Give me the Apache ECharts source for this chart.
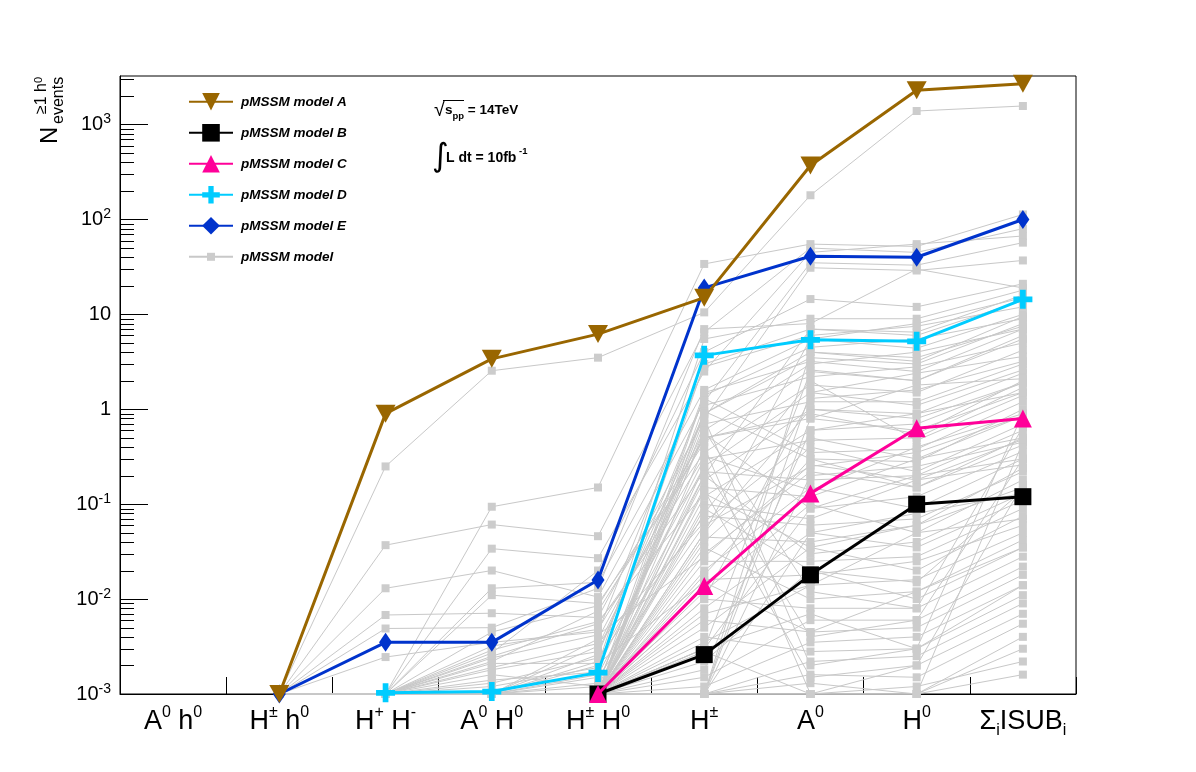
<!DOCTYPE html>
<html>
<head>
<meta charset="utf-8">
<script src="https://cdn.jsdelivr.net/npm/echarts@6/dist/echarts.min.js"></script>
<style>
html,body{margin:0;padding:0;background:#fff;}
#chart{width:1196px;height:772px;}
</style>
</head>
<body>
<div id="chart"></div>
<script>
// ---------------- DATA ----------------
const categories = ['A0 h0', 'H± h0', 'H+ H-', 'A0 H0', 'H± H0', 'H±', 'A0', 'H0', 'Σ ISUB'];
const xTickLabels = [
  '{m|A}{p|0}{m| h}{p|0}',
  '{m|H}{p|±}{m| h}{p|0}',
  '{m|H}{p|+}{m| H}{p|-}',
  '{m|A}{p|0}{m| H}{p|0}',
  '{m|H}{p|±}{m| H}{p|0}',
  '{m|H}{p|±}',
  '{m|A}{p|0}',
  '{m|H}{p|0}',
  '{m|Σ}{d|i}{m|ISUB}{d|i}'
];
const yMin = 0.001;
const yMax = 3250;

const modelA = [null, 0.001, 0.9, 3.4, 6.2, 15, 370, 2300, 2700];
const modelB = [null, null, null, null, 0.001, 0.0026, 0.018, 0.1, 0.12];
const modelC = [null, null, null, null, 0.001, 0.0137, 0.13, 0.63, 0.8];
const modelD = [null, null, 0.00103, 0.00106, 0.00168, 3.7, 5.4, 5.2, 14.4];
const modelE = [null, 0.001, 0.0035, 0.0035, 0.0159, 19, 41, 40, 100];

// grey pMSSM models: values for H± h0, H+ H-, A0 H0, H± H0, H±, A0, H0, Σ ISUB (A0 h0 empty)
const greyModels = [
  [1e-3, 0.25, 2.55, 3.5, 10.5, 180, 1390, 1570],
  [1e-3, 1e-3, 0.094, 0.15, 34, 55, 52, 113],
  [1e-3, 0.037, 0.061, 0.046, 6.5, 50, 45, 80],
  [1e-3, 1e-3, 0.034, 0.027, 2.5, 45, 55, 67],
  [1e-3, 0.013, 0.02, 0.0105, 1.2, 35, 33, 57],
  [1e-3, 0.0068, 0.0071, 0.0064, 0.8, 31, 29, 37],
  [1e-3, 1e-3, 0.0027, 0.02, 4, 14.5, 12, 21],
  [1e-3, 1e-3, 1e-3, 0.002, 5.5, 9, 9, 18],
  [1e-3, 0.0049, 0.005, 0.013, 7, 8, 30, 19],
  [1e-3, 1e-3, 0.0014, 0.0017, 3, 7, 6.5, 16],
  [1e-3, 0.00245, 0.0035, 0.0045, 2.8, 6, 7.5, 12],
  [1e-3, 1e-3, 0.013, 0.015, 1.6, 5.5, 4.4, 10],
  [1e-3, 1e-3, 1e-3, 1e-3, 1.4, 4.5, 5.5, 9],
  [1e-3, 1e-3, 0.0018, 0.0028, 0.9, 3.5, 3, 8],
  [1e-3, 1e-3, 1e-3, 0.0032, 0.6, 3, 4, 7],
  [1e-3, 1e-3, 0.0022, 0.0075, 0.45, 2.6, 2, 6],
  [1e-3, 1e-3, 1e-3, 1e-3, 1.1, 2.2, 2.8, 5],
  [1e-3, 1e-3, 0.011, 0.009, 0.35, 1.8, 1.5, 4.2],
  [1e-3, 1e-3, 1e-3, 0.0022, 0.25, 1.5, 2.4, 3.6],
  [1e-3, 1e-3, 1e-3, 1e-3, 0.7, 1.2, 1.2, 3],
  [1e-3, 1e-3, 0.0016, 0.0012, 0.18, 1.0, 0.9, 2.4],
  [1e-3, 1e-3, 1e-3, 0.0038, 0.5, 0.8, 1.8, 2.1],
  [1e-3, 1e-3, 1e-3, 1e-3, 0.12, 0.6, 0.7, 1.9],
  [1e-3, 1e-3, 0.0012, 0.0019, 0.3, 0.47, 0.5, 1.7],
  [1e-3, 1e-3, 1e-3, 1e-3, 0.08, 2, 0.47, 1.4],
  [1e-3, 1e-3, 1e-3, 0.0026, 1.3, 0.35, 0.38, 1.2],
  [1e-3, 1e-3, 1e-3, 1e-3, 0.95, 0.3, 0.28, 1.0],
  [1e-3, 1e-3, 1e-3, 0.0015, 0.06, 0.25, 0.35, 0.85],
  [1e-3, 1e-3, 1e-3, 1e-3, 0.04, 0.4, 0.22, 0.7],
  [1e-3, 1e-3, 0.0025, 0.0055, 0.22, 0.18, 0.2, 0.6],
  [1e-3, 1e-3, 1e-3, 1e-3, 0.15, 0.12, 0.3, 0.5],
  [1e-3, 1e-3, 1e-3, 1e-3, 0.03, 0.22, 0.15, 0.42],
  [1e-3, 1e-3, 1e-3, 0.0013, 0.55, 0.09, 0.12, 0.36],
  [1e-3, 1e-3, 1e-3, 1e-3, 0.02, 0.15, 0.09, 0.3],
  [1e-3, 1e-3, 1e-3, 1e-3, 0.1, 0.07, 0.18, 0.26],
  [1e-3, 1e-3, 0.0013, 0.0024, 0.075, 0.06, 0.07, 0.22],
  [1e-3, 1e-3, 1e-3, 1e-3, 0.012, 0.1, 0.05, 0.18],
  [1e-3, 1e-3, 1e-3, 1e-3, 0.045, 0.04, 0.06, 0.15],
  [1e-3, 1e-3, 1e-3, 0.0016, 0.2, 0.03, 0.04, 0.13],
  [1e-3, 1e-3, 1e-3, 1e-3, 0.008, 0.05, 0.035, 0.11],
  [1e-3, 1e-3, 1e-3, 1e-3, 0.025, 0.025, 0.028, 0.09],
  [1e-3, 1e-3, 1e-3, 1e-3, 0.005, 0.035, 0.02, 0.075],
  [1e-3, 1e-3, 1e-3, 1e-3, 0.016, 0.018, 0.025, 0.06],
  [1e-3, 1e-3, 1e-3, 1e-3, 0.0035, 0.014, 0.016, 0.05],
  [1e-3, 1e-3, 1e-3, 1e-3, 0.035, 0.01, 0.012, 0.042],
  [1e-3, 1e-3, 1e-3, 1e-3, 0.0022, 0.02, 0.01, 0.035],
  [1e-3, 1e-3, 1e-3, 1e-3, 0.01, 0.008, 0.008, 0.028],
  [1e-3, 1e-3, 1e-3, 1e-3, 0.0015, 0.006, 0.006, 0.022],
  [1e-3, 1e-3, 1e-3, 1e-3, 0.006, 0.0045, 0.005, 0.018],
  [1e-3, 1e-3, 1e-3, 1e-3, 0.0012, 0.0035, 0.004, 0.014],
  [1e-3, 1e-3, 1e-3, 1e-3, 0.004, 0.0028, 0.003, 0.011],
  [1e-3, 1e-3, 1e-3, 1e-3, 1e-3, 0.0022, 0.0025, 0.009],
  [1e-3, 1e-3, 1e-3, 1e-3, 0.0028, 1e-3, 0.002, 0.007],
  [1e-3, 1e-3, 1e-3, 1e-3, 1e-3, 0.0016, 0.0015, 0.0055],
  [1e-3, 1e-3, 1e-3, 1e-3, 1e-3, 1e-3, 1e-3, 0.004],
  [1e-3, 1e-3, 1e-3, 1e-3, 1e-3, 0.0013, 1e-3, 0.003],
  [1e-3, 1e-3, 1e-3, 1e-3, 1e-3, 1e-3, 0.0012, 0.0022],
  [1e-3, 1e-3, 1e-3, 1e-3, 1e-3, 1e-3, 1e-3, 0.0016],
  [1e-3, 1e-3, 1e-3, 1e-3, 0.8, 0.002, 0.003, 0.9],
  [1e-3, 1e-3, 1e-3, 1e-3, 0.4, 1e-3, 1e-3, 0.45],
  [1e-3, 1e-3, 1e-3, 1e-3, 0.6, 0.012, 0.008, 0.65],
  [1e-3, 1e-3, 1e-3, 1e-3, 0.25, 0.004, 0.006, 0.3],
  [1e-3, 1e-3, 1e-3, 1e-3, 0.14, 0.0015, 0.002, 0.16],
  [1e-3, 1e-3, 1e-3, 1e-3, 0.09, 0.02, 0.015, 0.14],
  [1e-3, 1e-3, 1e-3, 1e-3, 1e-3, 0.8, 0.6, 1.5],
  [1e-3, 1e-3, 1e-3, 1e-3, 1e-3, 4, 3.5, 7.5],
  [1e-3, 1e-3, 1e-3, 1e-3, 1e-3, 0.2, 0.25, 0.45],
  [1e-3, 1e-3, 1e-3, 1e-3, 1e-3, 0.05, 0.08, 0.13],
  [1e-3, 1e-3, 1e-3, 1e-3, 1e-3, 1.5, 1.1, 2.6],
  [1e-3, 1e-3, 1e-3, 1e-3, 0.0018, 0.6, 0.9, 1.5],
  [1e-3, 1e-3, 1e-3, 1e-3, 0.003, 0.09, 0.2, 0.3],
  [1e-3, 1e-3, 1e-3, 1e-3, 0.018, 0.3, 0.15, 0.5],
  [1e-3, 1e-3, 1e-3, 1e-3, 0.05, 1.0, 0.8, 1.9],
  [1e-3, 1e-3, 1e-3, 1e-3, 0.007, 0.014, 0.05, 0.07],
  [1e-3, 1e-3, 1e-3, 1e-3, 0.003, 0.007, 0.003, 0.014],
  [1e-3, 1e-3, 0.0045, 0.0085, 0.5, 0.9, 0.55, 2],
  [1e-3, 1e-3, 0.0032, 0.0048, 0.32, 0.14, 0.4, 0.9],
  [1e-3, 1e-3, 0.0019, 0.0034, 0.065, 0.5, 0.3, 0.85],
  [1e-3, 1e-3, 0.0029, 0.0058, 0.13, 0.035, 0.06, 0.24],
  [1e-3, 1e-3, 0.0024, 0.0042, 0.028, 0.26, 0.18, 0.48],
  [1e-3, 1e-3, 0.0021, 0.0021, 0.015, 0.0045, 0.012, 0.035],
  [1e-3, 1e-3, 1e-3, 1e-3, 0.2, 7, 6, 14],
  [1e-3, 1e-3, 1e-3, 1e-3, 0.05, 5.5, 8, 15],
  [1e-3, 1e-3, 1e-3, 1e-3, 0.9, 4, 3.2, 9.5],
  [1e-3, 1e-3, 1e-3, 0.0012, 1.5, 3.2, 2.5, 7],
  [1e-3, 1e-3, 1e-3, 1e-3, 0.003, 2.5, 2, 5.5],
  [1e-3, 1e-3, 1e-3, 1e-3, 0.01, 1.3, 1.6, 3.2]
];

// ---------------- STYLE ----------------
const FONT = '"Liberation Sans", Arial, Helvetica, sans-serif';
const COL_A = '#996600', COL_B = '#000000', COL_C = '#ff0099', COL_D = '#00ccff', COL_E = '#0033cc', COL_G = '#cccccc';
const CROSS = 'path://M3.5,0 H6.5 V3.5 H10 V6.5 H6.5 V10 H3.5 V6.5 H0 V3.5 H3.5 Z';
// small square with an invisible padded frame (so that the legend marker stays small)
const GREY_SQ = 'path://M-0.6,-0.6 M1.6,1.6 M0,0 H1 V1 H0 Z';

const series = [];
greyModels.forEach(function (row) {
  series.push({
    type: 'line', name: 'pMSSM model', data: [null].concat(row),
    symbol: GREY_SQ, symbolSize: 17.6, showAllSymbol: true, clip: false,
    lineStyle: { width: 1, color: '#c8c8c8' }, itemStyle: { color: COL_G },
    z: 2, silent: true, animation: false
  });
});
function mainSeries(name, data, color, symbol, size, rotate, z) {
  return {
    type: 'line', name: name, data: data, symbol: symbol, symbolSize: size, symbolRotate: rotate,
    showAllSymbol: true, clip: false, connectNulls: false,
    lineStyle: { width: 3, color: color }, itemStyle: { color: color },
    z: z, silent: true, animation: false
  };
}
series.push(mainSeries('pMSSM model E', modelE, COL_E, 'diamond', [13, 19], 0, 3));
series.push(mainSeries('pMSSM model D', modelD, COL_D, CROSS, 19, 0, 4));
series.push(mainSeries('pMSSM model B', modelB, COL_B, 'rect', 17, 0, 5));
series.push(mainSeries('pMSSM model C', modelC, COL_C, 'triangle', 18, 0, 6));
series.push(mainSeries('pMSSM model A', modelA, COL_A, 'triangle', [20, 18], 180, 7));

// minor ticks of the log axis (2..9 per decade)
const minorTickData = [];
for (let e = -3; e <= 3; e++) {
  for (let k = 2; k <= 9; k++) {
    const v = k * Math.pow(10, e);
    if (v < yMax) minorTickData.push([0, v]);
  }
}
series.push({
  type: 'custom', name: 'minor', data: minorTickData, silent: true, clip: false, z: 10,
  encode: { x: 0, y: 1 },
  renderItem: function (params, api) {
    const y = Math.round(api.coord([0, api.value(1)])[1]) + 0.5;
    const x0 = params.coordSys.x;
    return { type: 'line', shape: { x1: x0, y1: y, x2: x0 + 14, y2: y }, style: { stroke: '#000', lineWidth: 1 } };
  }
});

const chart = echarts.init(document.getElementById('chart'), null, { renderer: 'canvas' });
chart.setOption({
  backgroundColor: '#ffffff',
  animation: false,
  grid: { left: 120, right: 120, top: 76, bottom: 78, show: true, borderColor: '#000', borderWidth: 1, backgroundColor: 'transparent' },
  legend: {
    data: ['pMSSM model A', 'pMSSM model B', 'pMSSM model C', 'pMSSM model D', 'pMSSM model E', 'pMSSM model'],
    orient: 'vertical', left: 188, top: 93, padding: 0, itemWidth: 44, itemHeight: 22, itemGap: 13.4,
    selectedMode: false,
    textStyle: { fontFamily: FONT, fontSize: 13.5, fontWeight: 'bold', fontStyle: 'italic', color: '#000', padding: [0, 0, 0, 3] }
  },
  xAxis: {
    type: 'category', data: categories, boundaryGap: true,
    axisLine: { lineStyle: { color: '#000', width: 1 } },
    axisTick: { show: true, inside: true, length: 17, interval: 0, lineStyle: { color: '#000' } },
    splitLine: { show: false },
    axisLabel: {
      interval: 0, margin: 11, color: '#000',
      formatter: function (v, i) { return xTickLabels[i]; },
      rich: {
        m: { fontFamily: FONT, fontSize: 27, lineHeight: 34, color: '#000' },
        p: { fontFamily: FONT, fontSize: 16, lineHeight: 16, verticalAlign: 'top', color: '#000' },
        d: { fontFamily: FONT, fontSize: 16, lineHeight: 12, verticalAlign: 'bottom', color: '#000' }
      }
    }
  },
  yAxis: {
    type: 'log', logBase: 10, min: yMin, max: yMax, splitNumber: 7,
    axisLine: { show: true, lineStyle: { color: '#000', width: 1 } },
    axisTick: { show: true, inside: true, length: 28, lineStyle: { color: '#000' } },
    splitLine: { show: false },
    minorTick: { show: false },
    axisLabel: {
      margin: 9, showMaxLabel: false, color: '#000',
      formatter: function (v) {
        const e = Math.round(Math.log10(v));
        if (e === 0) return '{b|1}';
        if (e === 1) return '{b|10}';
        return '{b|10}{s|' + e + '}';
      },
      rich: {
        b: { fontFamily: FONT, fontSize: 20, lineHeight: 24, color: '#000' },
        s: { fontFamily: FONT, fontSize: 14, lineHeight: 14, verticalAlign: 'top', color: '#000' }
      }
    }
  },
  graphic: [
    {
      type: 'group', x: 50, y: 144, rotation: Math.PI / 2, silent: true,
      children: [
        { type: 'text', x: 0, y: 0, style: { text: 'N', font: '24px ' + FONT, fill: '#000', align: 'left', verticalAlign: 'middle' } },
        { type: 'text', x: 20, y: 9, style: { text: 'events', font: '16px ' + FONT, fill: '#000', align: 'left', verticalAlign: 'middle' } },
        { type: 'text', x: 30, y: -8, style: {
            text: '{a|≥1 h}{b|0}', fill: '#000', align: 'left', verticalAlign: 'middle',
            rich: { a: { fontFamily: FONT, fontSize: 16, lineHeight: 18 }, b: { fontFamily: FONT, fontSize: 11, lineHeight: 11, verticalAlign: 'top' } }
        } }
      ]
    },
    {
      type: 'text', x: 434, y: 99, silent: true,
      style: {
        text: '{r|√}{t|s}{u|pp}{t| = 14TeV}', fill: '#000',
        rich: {
          r: { fontFamily: FONT, fontSize: 20, lineHeight: 22 },
          t: { fontFamily: FONT, fontSize: 13.5, fontWeight: 'bold', lineHeight: 18 },
          u: { fontFamily: FONT, fontSize: 9.5, fontWeight: 'bold', lineHeight: 10, verticalAlign: 'bottom' }
        }
      }
    },
    { type: 'line', silent: true, shape: { x1: 443, y1: 100.5, x2: 464, y2: 100.5 }, style: { stroke: '#000', lineWidth: 1 } },
    { type: 'text', x: 432, y: 158, silent: true,
      style: { text: '∫', font: '32px "DejaVu Sans", sans-serif', fill: '#000', align: 'left', verticalAlign: 'middle' } },
    { type: 'text', x: 446, y: 158, silent: true,
      style: { text: 'L dt = 10fb', font: 'bold 14px ' + FONT, fill: '#000', align: 'left', verticalAlign: 'middle' } },
    { type: 'text', x: 519, y: 151, silent: true,
      style: { text: '-1', font: 'bold 9.5px ' + FONT, fill: '#000', align: 'left', verticalAlign: 'middle' } }
  ],
  series: series
});
</script>
</body>
</html>
